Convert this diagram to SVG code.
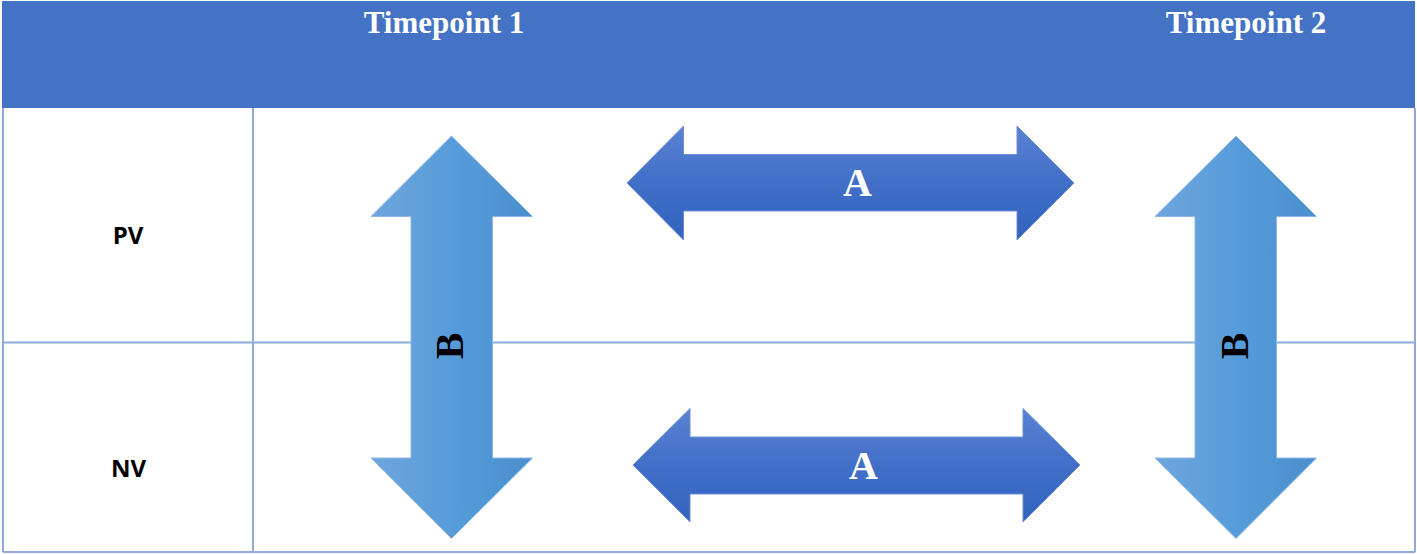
<svg xmlns="http://www.w3.org/2000/svg" width="1417" height="554" viewBox="0 0 1417 554">
<defs>
<linearGradient id="gv" x1="0" y1="0" x2="1" y2="0">
<stop offset="0" stop-color="#6FA6DC"/>
<stop offset="0.5" stop-color="#579CDA"/>
<stop offset="1" stop-color="#4A8ECE"/>
</linearGradient>
<linearGradient id="gh" x1="0" y1="0" x2="0" y2="1">
<stop offset="0" stop-color="#5B82D2"/>
<stop offset="0.5" stop-color="#416FC8"/>
<stop offset="1" stop-color="#3363BE"/>
</linearGradient>
<style>
.grid{stroke:#8EAADB;stroke-width:2;fill:none}
.hdr{font-family:"Liberation Serif","Times New Roman",serif;font-weight:bold;font-size:31px;fill:#FFFFFF}
.row{font-family:"Open Sans","Liberation Sans",Arial,sans-serif;font-weight:bold;font-size:24px;fill:#000000}
.va{fill:url(#gv);stroke:#8DB8E6;stroke-width:1}
.ha{fill:url(#gh);stroke:#6E8FD8;stroke-width:1}
.lblA{font-family:"Liberation Serif","Times New Roman",serif;font-weight:bold;font-size:40px;fill:#FFFFFF}
.lblB{font-family:"Liberation Serif","Times New Roman",serif;font-weight:bold;font-size:40px;fill:#000000}
</style>
</defs>
<rect width="1417" height="554" fill="#FFFFFF"/>
<g id="table">
<rect x="2" y="1" width="1413" height="107" fill="#4472C4"/>
<line class="grid" x1="3" y1="108" x2="3" y2="552"/>
<line class="grid" x1="1415" y1="108" x2="1415" y2="552"/>
<line class="grid" x1="253" y1="108" x2="253" y2="552"/>
<line class="grid" x1="3" y1="342.5" x2="1415" y2="342.5"/>
<line class="grid" x1="3" y1="552" x2="1415" y2="552"/>
<text class="hdr" x="444" y="33" text-anchor="middle">Timepoint 1</text>
<text class="hdr" x="1246" y="33" text-anchor="middle">Timepoint 2</text>
<text class="row" x="128" y="244" text-anchor="middle">PV</text>
<text class="row" x="128.5" y="477" text-anchor="middle">NV</text>
</g>
<g id="connectors">
<g id="arrowB1">
<polygon class="va" points="451.5,136 532.5,216.5 492.5,216.5 492.5,458 532.5,458 451.5,538.5 371,458 411,458 411,216.5 371,216.5"/>
<text class="lblB" transform="translate(463,346) rotate(-90)" text-anchor="middle">B</text>
</g>
<g id="arrowB2">
<polygon class="va" points="1236,136 1316.5,216.5 1276.5,216.5 1276.5,458 1316.5,458 1236,538.5 1155,458 1195,458 1195,216.5 1155,216.5"/>
<text class="lblB" transform="translate(1248,346) rotate(-90)" text-anchor="middle">B</text>
</g>
<g id="arrowA1">
<polygon class="ha" points="627,183 683.5,126 683.5,154.5 1017,154.5 1017,126 1074,183 1017,240 1017,211 683.5,211 683.5,240"/>
<text class="lblA" x="857.5" y="196" text-anchor="middle">A</text>
</g>
<g id="arrowA2">
<polygon class="ha" points="633,465 690,408.5 690,437 1023,437 1023,408.5 1080,465 1023,522 1023,494 690,494 690,522"/>
<text class="lblA" x="863.5" y="479" text-anchor="middle">A</text>
</g>
</g>
</svg>
